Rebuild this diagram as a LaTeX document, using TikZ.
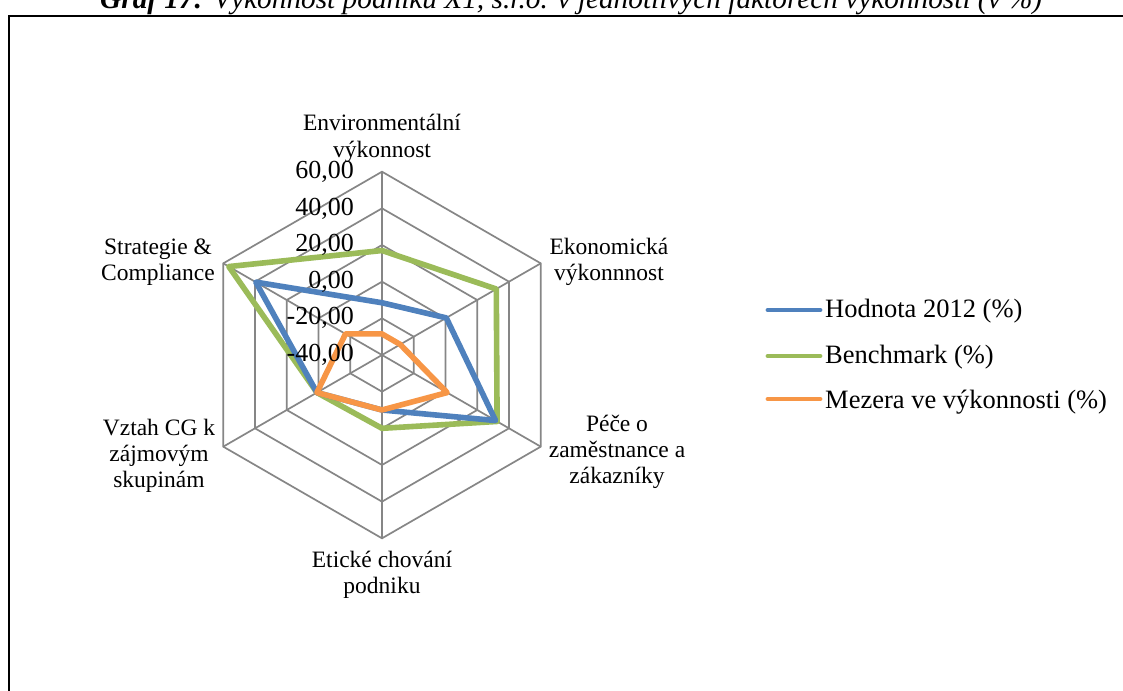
\documentclass[tikz,border=0pt]{standalone}
\usepackage{fontspec}
\setmainfont{Liberation Serif}
\definecolor{gridgray}{HTML}{868686}
\definecolor{serblue}{HTML}{4F81BD}
\definecolor{sergreen}{HTML}{9BBB59}
\definecolor{serorange}{HTML}{F79646}
\tikzset{
  gridline/.style={draw=gridgray, line width=1.7pt},
  series/.style={line width=5.6pt, line join=round, line cap=round},
  catlabel/.style={align=center, inner sep=0pt, anchor=base, font=\fontsize{23.5}{26}\selectfont},
  ticklabel/.style={anchor=east, inner sep=0pt, font=\fontsize{26}{28}\selectfont},
  legtext/.style={anchor=base west, inner sep=0pt, font=\fontsize{26.5}{30}\selectfont},
  legline/.style={line width=4.8pt, line cap=round},
  frameline/.style={draw=black, line width=1.4pt}
}
% radar scale: value v maps to radius (v+40)*1.833
\newcommand{\rr}[1]{{(#1+40)*1.833}}
\begin{document}
\begin{tikzpicture}[x=1pt,y=-1pt]
\useasboundingbox (0,0) rectangle (1123,690);
\fill[white] (0,0) rectangle (1123,690);

% caption (partly above the page edge)
\node[anchor=base west, inner sep=0pt, font=\fontsize{29.3}{32}\selectfont] (caption) at (100,9)
  {\textbf{\textit{Graf 17:}}\textit{ Výkonnost podniku X1, s.r.o. v jednotlivých faktorech výkonnosti (v~\%)}};

% chart frame
\draw[frameline] (1135,16) -- (9,16) -- (9,700);

\begin{scope}[shift={(382,355)}, y=1pt]
  % rings
  \foreach \v in {60,40,20,0,-20} {
    \draw[gridline] (90:\rr{\v}) -- (30:\rr{\v}) -- (-30:\rr{\v}) -- (-90:\rr{\v})
      -- (-150:\rr{\v}) -- (150:\rr{\v}) -- cycle;
  }
  % spokes
  \foreach \a in {90,30,-30,-90,-150,150} {
    \draw[gridline] (0,0) -- (\a:\rr{60});
  }
  % Benchmark
  \draw[series, draw=sergreen] (90:\rr{17}) -- (30:\rr{32}) -- (-30:\rr{32.5})
    -- (-90:\rr{0}) -- (-150:\rr{1}) -- (150:\rr{56.5}) -- cycle;
  % Hodnota 2012
  \draw[series, draw=serblue] (90:\rr{-11.5}) -- (30:\rr{0.5}) -- (-30:\rr{31.5})
    -- (-90:\rr{-10}) -- (-150:\rr{1}) -- (150:\rr{39.5}) -- cycle;
  % Mezera ve výkonnosti
  \draw[series, draw=serorange] (90:\rr{-28.5}) -- (30:\rr{-28.5}) -- (-30:\rr{1})
    -- (-90:\rr{-10}) -- (-150:\rr{1}) -- (150:\rr{-17}) -- cycle;
  % value labels on the top spoke
  \foreach \v/\t [count=\i] in {60/60{,}00, 40/40{,}00, 20/20{,}00, 0/0{,}00, -20/-20{,}00, -40/-40{,}00} {
    \node[ticklabel] (tick\i) at (-28,\rr{\v}) {\t};
  }
\end{scope}

% category labels (base = baseline of the last line)
\node[catlabel] (catenv) at (382,157) {Environmentální\\výkonnost};
\node[catlabel] (cateko) at (609,280) {Ekonomická\\výkonnnost};
\node[catlabel] (catpec) at (617,483) {Péče o\\zaměstnance a\\zákazníky};
\node[catlabel] (cateti) at (382,593) {Etické chování\\podniku};
\node[catlabel] (catvzt) at (159,487) {Vztah CG k\\zájmovým\\skupinám};
\node[catlabel] (catstr) at (158,280) {Strategie \&\\Compliance};

% legend
\node[legtext] (leg1) at (825,317) {Hodnota 2012 (\%)};
\node[legtext] (leg2) at (825,363) {Benchmark (\%)};
\node[legtext] (leg3) at (825,408) {Mezera ve výkonnosti (\%)};
\draw[legline, draw=serblue] (768,310) -- ([xshift=-5pt]leg1.west |- 0,310);
\draw[legline, draw=sergreen] (768,356) -- ([xshift=-5pt]leg2.west |- 0,356);
\draw[legline, draw=serorange] (768,399) -- ([xshift=-5pt]leg3.west |- 0,399);
\end{tikzpicture}
\end{document}
